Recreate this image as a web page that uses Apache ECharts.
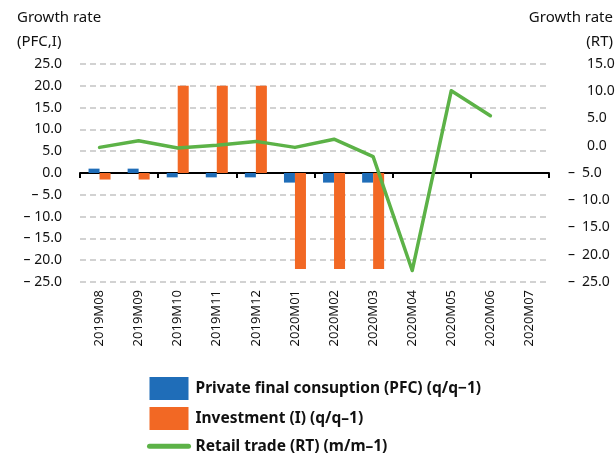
<!DOCTYPE html>
<html>
<head>
<meta charset="utf-8">
<style>
  html, body { margin: 0; padding: 0; background: #ffffff; }
  #chart { width: 616px; height: 461px; }
</style>
<script src="https://cdn.jsdelivr.net/npm/echarts@6/dist/echarts.min.js"></script>
</head>
<body>
<div id="chart"></div>
<script>
// Monthly periods on the category axis
const categories = ['2019M08', '2019M09', '2019M10', '2019M11', '2019M12', '2020M01',
  '2020M02', '2020M03', '2020M04', '2020M05', '2020M06', '2020M07'];

// Private final consumption, q/q-1 growth (%)
const pfcGrowth = [1.0, 1.0, -1.0, -1.0, -1.0, -2.2, -2.2, -2.2, null, null, null, null];

// Investment, q/q-1 growth (%)
const investmentGrowth = [-1.5, -1.5, 20.0, 20.0, 20.0, -22.0, -22.0, -22.0, null, null, null, null];

// Retail trade, m/m-1 growth (%), right-hand scale
const retailGrowth = [-0.3, 0.9, -0.4, 0.1, 0.8, -0.3, 1.2, -2.0, -22.9, 10.1, 5.5, null];

// Axis ranges
const leftMin = -25, leftMax = 25, leftStep = 5;
const rightMin = -25, rightMax = 15, rightStep = 5;

const FONT = '"Noto Sans", sans-serif';
const BLUE = '#1f6db8';
const ORANGE = '#f26824';
const GREEN = '#5cb247';

const PFC_NAME = 'Private final consuption (PFC) (q/q\u22121)';
const INV_NAME = 'Investment (I) (q/q\u20131)';
const RT_NAME = 'Retail trade (RT) (m/m\u20131)';

function leftLabel(v) {
  return v < 0 ? '– ' + Math.abs(v).toFixed(1) : v.toFixed(1);
}
function rightLabel(v) {
  return v < 0 ? '{n|–\u2002' + Math.abs(v).toFixed(1) + '}' : '{p|' + v.toFixed(1) + '}';
}

const chart = echarts.init(document.getElementById('chart'), null, { renderer: 'canvas' });

const titleFont = '15px ' + FONT;

chart.setOption({
  backgroundColor: '#ffffff',
  animation: false,
  textStyle: { fontFamily: FONT },
  grid: { left: 80, right: 67, top: 64, bottom: 179, containLabel: false, outerBoundsMode: 'none' },
  graphic: [
    { type: 'text', left: 17, top: 10, style: { text: 'Growth rate', font: titleFont, fill: '#111' } },
    { type: 'text', left: 17, top: 34, style: { text: '(PFC,I)', font: titleFont, fill: '#111' } },
    { type: 'text', right: 3, top: 10, style: { text: 'Growth rate', font: titleFont, fill: '#111' } },
    { type: 'text', right: 3, top: 34, style: { text: '(RT)', font: titleFont, fill: '#111' } }
  ],
  legend: {
    orient: 'vertical',
    left: 147,
    top: 377,
    padding: 0,
    itemWidth: 39,
    itemHeight: 23,
    itemGap: 7,
    textStyle: { fontFamily: FONT, fontSize: 15.5, fontWeight: 'bold', color: '#111', padding: [0, 0, 0, 2] },
    data: [
      { name: PFC_NAME, icon: 'rect' },
      { name: INV_NAME, icon: 'rect' },
      { name: RT_NAME,
        itemStyle: { color: 'rgba(0,0,0,0)', borderWidth: 0, opacity: 0 },
        lineStyle: { color: GREEN, width: 5, cap: 'round' } }
    ]
  },
  xAxis: [
    {
      type: 'category',
      data: categories,
      position: 'bottom',
      boundaryGap: true,
      axisLine: { onZero: true, onZeroAxisIndex: 0, lineStyle: { color: '#000', width: 2 } },
      axisTick: { show: true, length: 5, lineStyle: { color: '#000', width: 2 } },
      axisLabel: { show: false },
      splitLine: { show: false }
    },
    {
      type: 'category',
      data: categories,
      position: 'bottom',
      boundaryGap: true,
      axisLine: { show: false, onZero: false },
      axisTick: { show: false },
      axisLabel: { rotate: 90, margin: 8, fontFamily: FONT, fontSize: 13, color: '#111' },
      splitLine: { show: false }
    }
  ],
  yAxis: [
    {
      type: 'value',
      position: 'left',
      min: leftMin, max: leftMax, interval: leftStep,
      axisLine: { show: false },
      axisTick: { show: false },
      axisLabel: { formatter: leftLabel, margin: 18, fontFamily: FONT, fontSize: 14, color: '#111' },
      splitLine: { show: true, lineStyle: { color: '#c4c4c4', type: [6, 4], width: 1.5 } }
    },
    {
      type: 'value',
      position: 'right',
      min: rightMin, max: rightMax, interval: rightStep,
      axisLine: { show: false },
      axisTick: { show: false },
      splitLine: { show: false },
      axisLabel: {
        formatter: rightLabel,
        margin: 19,
        align: 'left',
        fontFamily: FONT, fontSize: 14, color: '#111',
        rich: {
          p: { fontFamily: FONT, fontSize: 14, color: '#111', padding: [0, 0, 0, 19] },
          n: { fontFamily: FONT, fontSize: 14, color: '#111' }
        }
      }
    }
  ],
  series: [
    {
      name: PFC_NAME,
      type: 'bar',
      xAxisIndex: 0, yAxisIndex: 0,
      data: pfcGrowth,
      barWidth: 11,
      barGap: '0%',
      itemStyle: { color: BLUE },
      z: 2
    },
    {
      name: INV_NAME,
      type: 'bar',
      xAxisIndex: 0, yAxisIndex: 0,
      data: investmentGrowth,
      barWidth: 11,
      barGap: '0%',
      itemStyle: { color: ORANGE },
      z: 2
    },
    {
      name: RT_NAME,
      type: 'line',
      xAxisIndex: 0, yAxisIndex: 1,
      data: retailGrowth,
      symbol: 'none',
      lineStyle: { color: GREEN, width: 3.5, cap: 'round', join: 'round' },
      itemStyle: { color: GREEN },
      z: 4
    }
  ]
});
</script>
</body>
</html>
